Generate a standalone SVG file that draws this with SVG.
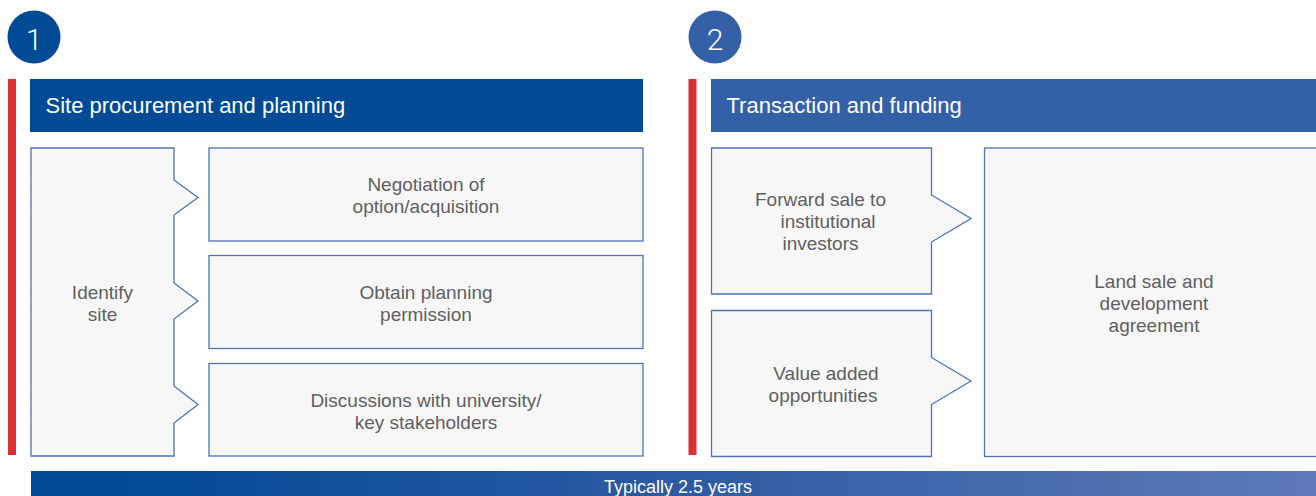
<svg xmlns="http://www.w3.org/2000/svg" width="1316" height="496" viewBox="0 0 1316 496">
<style>
.box{fill:#f7f7f7;stroke:#4f72b8;stroke-width:1.3}
.t{font-family:"Liberation Sans",Arial,Helvetica,sans-serif;font-size:19px;fill:#5f5f5f;text-anchor:middle}
.h{font-family:"Liberation Sans",Arial,Helvetica,sans-serif;font-size:22px;fill:#ffffff}
.num{font-family:Roboto,"Liberation Sans",sans-serif;font-weight:300;font-size:30px;fill:#ffffff;text-anchor:middle}
.red{fill:#dc2f36}
</style>
<defs>
<linearGradient id="band" x1="0" y1="0" x2="1" y2="0">
<stop offset="0" stop-color="#004a96"/>
<stop offset="0.12" stop-color="#064b97"/>
<stop offset="0.5" stop-color="#2d5aa3"/>
<stop offset="1" stop-color="#5e7ab8"/>
</linearGradient>
</defs>
<rect width="1316" height="496" fill="#ffffff"/>

<g id="stage1">
<circle cx="34" cy="37" r="26.5" fill="#004a96"/>
<text class="num" x="34" y="49.5">1</text>
<rect class="red" x="8" y="79" width="8" height="376"/>
<rect x="30" y="79" width="613" height="53" fill="#004a96"/>
<text class="h" x="45.5" y="113">Site procurement and planning</text>
</g>

<g id="stage2">
<circle cx="715" cy="37" r="26.5" fill="#3460a8"/>
<text class="num" x="715" y="49.5">2</text>
<rect class="red" x="688.5" y="79" width="8" height="376"/>
<rect x="711" y="79" width="610" height="53" fill="#3460a8"/>
<text class="h" x="726.5" y="113">Transaction and funding</text>
</g>

<g id="identify-site">
<path class="box" d="M31,148 H174 V180 L198,197.5 L174,215 V283 L198,301 L174,319 V386 L198,404.5 L174,423 V456 H31 Z"/>
<text class="t" x="102.5" y="298.5">Identify</text>
<text class="t" x="102.5" y="320.5">site</text>
</g>

<g id="negotiation">
<rect class="box" x="209" y="148" width="434" height="93"/>
<text class="t" x="426" y="190.5">Negotiation of</text>
<text class="t" x="426" y="212.5">option/acquisition</text>
</g>

<g id="planning-permission">
<rect class="box" x="209" y="255.5" width="434" height="93"/>
<text class="t" x="426" y="298.5">Obtain planning</text>
<text class="t" x="426" y="320.5">permission</text>
</g>

<g id="discussions">
<rect class="box" x="209" y="363.5" width="434" height="92.5"/>
<text class="t" x="426" y="406.5">Discussions with university/</text>
<text class="t" x="426" y="428.5">key stakeholders</text>
</g>

<g id="forward-sale">
<path class="box" d="M711.5,148 H931.5 V195 L971,218.5 L931.5,242 V294 H711.5 Z"/>
<text class="t" x="820.5" y="205.5">Forward sale to</text>
<text class="t" x="828" y="227.5">institutional</text>
<text class="t" x="820.5" y="249.5">investors</text>
</g>

<g id="value-added">
<path class="box" d="M711.5,310.5 H931.5 V357.5 L971,381 L931.5,404.5 V456.5 H711.5 Z"/>
<text class="t" x="826" y="379.5">Value added</text>
<text class="t" x="823" y="401.5">opportunities</text>
</g>

<g id="land-sale">
<rect class="box" x="984.5" y="148" width="340" height="308.5"/>
<text class="t" x="1154" y="287.5">Land sale and</text>
<text class="t" x="1154" y="309.5">development</text>
<text class="t" x="1154" y="331.5">agreement</text>
</g>

<g id="timeline">
<rect x="31" y="471" width="1290" height="30" fill="url(#band)"/>
<text x="678" y="492.5" font-family="'Liberation Sans',Arial,Helvetica,sans-serif" font-size="18px" fill="#ffffff" text-anchor="middle">Typically 2.5 years</text>
</g>

<g id="connectors"></g>
</svg>
